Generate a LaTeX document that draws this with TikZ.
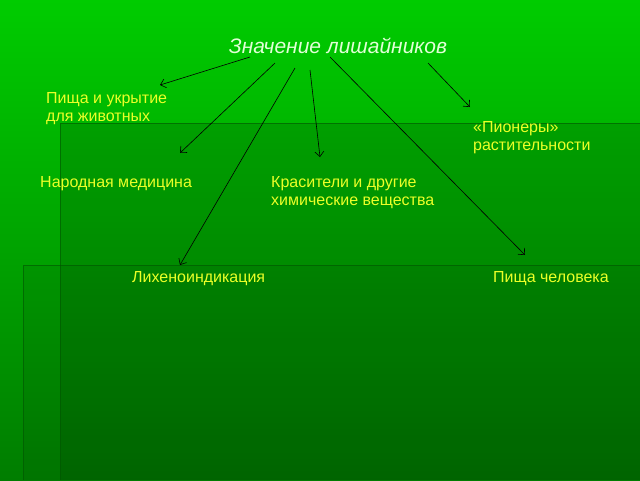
\documentclass[tikz,border=0pt]{standalone}
\usepackage{fontspec}
\setmainfont{Liberation Sans}
\usetikzlibrary{arrows.meta}
\definecolor{slidetop}{RGB}{0,204,0}
\definecolor{slidebottom}{RGB}{0,125,0}
\definecolor{paneledge}{RGB}{0,85,0}
\definecolor{labelyellow}{RGB}{235,255,40}
\definecolor{titlewhite}{RGB}{225,255,215}
\begin{document}
\begin{tikzpicture}[x=1pt, y=-1pt,
    meaning/.style ={anchor=north west, align=left, inner sep=0pt,
      text=labelyellow, font=\fontsize{16}{18.5}\selectfont},
    pointer/.style ={-{Straight Barb[length=5pt, width=9pt]}, black, line width=0.6pt}]
   \useasboundingbox (0,0) rectangle (640,480);
   \shade[top color=slidetop, bottom color=slidebottom] (0,0) rectangle (640,480);
   \fill[black, opacity=0.13] (60,123) rectangle (640,480);
   \fill[black, opacity=0.07] (23,265) rectangle (640,480);
   \draw[paneledge, line width=1pt, opacity=0.6] (60,480) -- (60,123) -- (640,123);
   \draw[paneledge, line width=1pt, opacity=0.6] (23,480) -- (23,265) -- (640,265);

   \node[inner sep=0pt, text=titlewhite, font=\fontsize{21}{24}\selectfont\itshape] (T) at (338,46) {Значение лишайников};

   \node[meaning] (A) at (46,92)   {Пища и укрытие\\для животных};
   \node[meaning] (B) at (473,121) {«Пионеры»\\растительности};
   \node[meaning] (C) at (40,176)  {Народная медицина};
   \node[meaning] (D) at (271,176) {Красители и другие\\химические вещества};
   \node[meaning] (E) at (132,271) {Лихеноиндикация};
   \node[meaning] (F) at (493,271) {Пища человека};

   \coordinate (a1) at (250,57);  \coordinate (a2) at (160,85);
   \coordinate (b1) at (428,63);  \coordinate (b2) at (470,107);
   \coordinate (c1) at (275,63);  \coordinate (c2) at (180,153);
   \coordinate (d1) at (310,70);  \coordinate (d2) at (320,157);
   \coordinate (e1) at (295,68);  \coordinate (e2) at (180,265);
   \coordinate (f1) at (330,57);  \coordinate (f2) at (525,255);

   \draw[pointer] (a1) -- (a2);
   \draw[pointer] (b1) -- (b2);
   \draw[pointer] (c1) -- (c2);
   \draw[pointer] (d1) -- (d2);
   \draw[pointer] (e1) -- (e2);
   \draw[pointer] (f1) -- (f2);

\end{tikzpicture}
\end{document}
